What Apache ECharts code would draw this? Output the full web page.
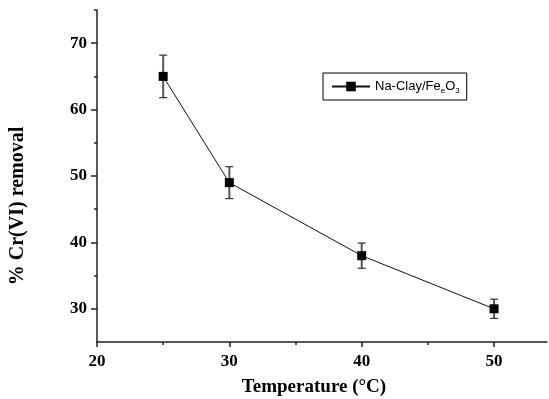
<!DOCTYPE html>
<html>
<head>
<meta charset="utf-8">
<script src="https://cdn.jsdelivr.net/npm/echarts@6/dist/echarts.min.js"></script>
<style>html,body{margin:0;padding:0;background:#fff}#c{width:549px;height:399px}</style>
</head>
<body>
<div id="c"></div>
<script>
const temperatures = [25, 30, 40, 50];
const removal = [65, 49, 38, 30];
const errors = [3.2, 2.4, 1.9, 1.45];
const xMajorTicks = [20, 30, 40, 50];
const xMinorTicks = [25, 35, 45];
const yMajorTicks = [30, 40, 50, 60, 70];
const yMinorTicks = [35, 45, 55, 65, 75];
const seriesName = 'Na-Clay/Fe2O3';

const chart = echarts.init(document.getElementById('c'), null, {renderer: 'canvas'});
const axisFont = {fontFamily: 'Liberation Serif', fontWeight: 'bold', fontSize: 17, color: '#000'};
const lineStyle = {color: '#222', width: 1.5};

const option = {
  backgroundColor: '#fff',
  animation: false,
  grid: {left: 97, right: 2, top: 10, bottom: 57, containLabel: false, outerBoundsMode: 'none'},
  legend: {
    left: 323, top: 73,
    data: [seriesName],
    orient: 'horizontal',
    borderColor: '#000', borderWidth: 1, borderRadius: 0,
    padding: [5, 7, 5, 8],
    itemWidth: 38, itemHeight: 12, itemGap: 4,
    formatter: function () { return '{a|Na-Clay/Fe}{s|e}{a|O}{s|3}'; },
    textStyle: {
      color: '#000',
      rich: {
        a: {fontFamily: 'Liberation Sans', fontSize: 13, color: '#000', lineHeight: 17, verticalAlign: 'middle'},
        s: {fontFamily: 'Liberation Sans', fontSize: 8, color: '#000', lineHeight: 17, verticalAlign: 'bottom', padding: [9, 0, 0, 0]}
      }
    }
  },
  xAxis: [
    {
      type: 'value', min: 20, max: 54, position: 'bottom',
      axisLine: {show: true, lineStyle: lineStyle},
      axisTick: {show: true, customValues: xMajorTicks, length: 5, lineStyle: lineStyle},
      axisLabel: Object.assign({customValues: xMajorTicks, margin: 11}, axisFont),
      splitLine: {show: false},
      name: 'Temperature (°C)', nameLocation: 'middle', nameGap: 36,
      nameTextStyle: {fontFamily: 'Liberation Serif', fontWeight: 'bold', fontSize: 19, color: '#000', padding: [0, 16, 0, 0]}
    },
    {
      type: 'value', min: 20, max: 54, position: 'bottom',
      axisLine: {show: false},
      axisTick: {show: true, customValues: xMinorTicks, length: 3, lineStyle: lineStyle},
      axisLabel: {show: false},
      splitLine: {show: false}
    }
  ],
  yAxis: [
    {
      type: 'value', min: 25, max: 75, position: 'left',
      axisLine: {show: true, lineStyle: lineStyle},
      axisTick: {show: true, customValues: yMajorTicks, length: 6, lineStyle: lineStyle},
      axisLabel: Object.assign({customValues: yMajorTicks, margin: 10}, axisFont),
      splitLine: {show: false},
      name: '% Cr(VI) removal', nameLocation: 'middle', nameGap: 69, nameRotate: 90,
      nameTextStyle: {fontFamily: 'Liberation Serif', fontWeight: 'bold', fontSize: 20, color: '#000', padding: [0, 60, 0, 0]}
    },
    {
      type: 'value', min: 25, max: 75, position: 'left',
      axisLine: {show: false},
      axisTick: {show: true, customValues: yMinorTicks, length: 3, lineStyle: lineStyle},
      axisLabel: {show: false},
      splitLine: {show: false}
    }
  ],
  series: [
    {
      type: 'custom',
      name: 'error',
      z: 1,
      data: temperatures.map((t, i) => [t, removal[i], errors[i]]),
      renderItem: function (params, api) {
        const x = api.value(0), y = api.value(1), e = api.value(2);
        const top = api.coord([x, y + e]);
        const bot = api.coord([x, y - e]);
        const hw = 4;
        return {
          type: 'group',
          children: [
            {type: 'line', shape: {x1: top[0], y1: top[1], x2: bot[0], y2: bot[1]}, style: {stroke: '#555', lineWidth: 2}},
            {type: 'line', shape: {x1: top[0] - hw, y1: top[1], x2: top[0] + hw, y2: top[1]}, style: {stroke: '#333', lineWidth: 1.2}},
            {type: 'line', shape: {x1: bot[0] - hw, y1: bot[1], x2: bot[0] + hw, y2: bot[1]}, style: {stroke: '#333', lineWidth: 1.2}}
          ]
        };
      }
    },
    {
      type: 'line',
      name: seriesName,
      z: 3,
      data: temperatures.map((t, i) => [t, removal[i]]),
      symbol: 'rect', symbolSize: 9,
      lineStyle: {color: '#111', width: 1},
      itemStyle: {color: '#000'}
    }
  ]
};
chart.setOption(option);
</script>
</body>
</html>
